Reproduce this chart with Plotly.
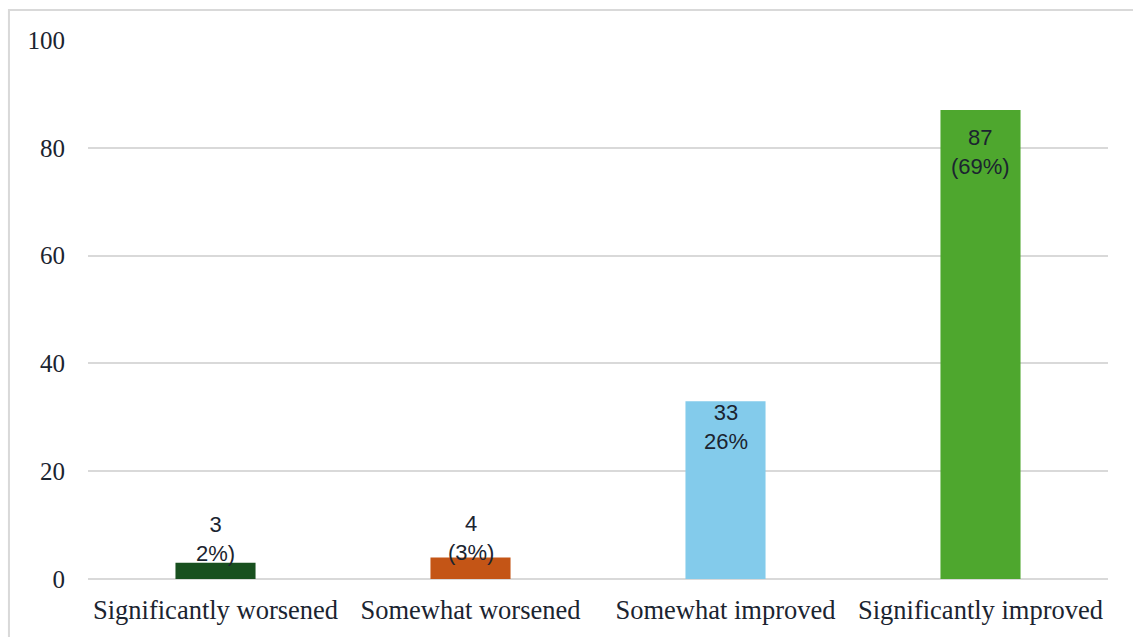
import plotly.graph_objects as go

categories = ["Significantly worsened", "Somewhat worsened", "Somewhat improved", "Significantly improved"]
counts = [3, 4, 33, 87]
pct_labels = ["2%)", "(3%)", "26%", "(69%)"]
bar_colors = ["#18501f", "#c45516", "#83cbeb", "#4ea72e"]
y_ticks = [0, 20, 40, 60, 80, 100]

# label placement per bar: (anchor, pixel shift from bar top)
label_anchor = ["bottom", "bottom", "top", "top"]
label_shift = [-5, -10, 3, -13]

fig = go.Figure(
    go.Bar(
        x=categories,
        y=counts,
        marker=dict(color=bar_colors, line=dict(width=0)),
        width=0.314,
        hoverinfo="skip",
    )
)

for cat, n, pct, anc, sh in zip(categories, counts, pct_labels, label_anchor, label_shift):
    fig.add_annotation(
        x=cat, y=n, text=f"{n}<br>{pct}", showarrow=False,
        yanchor=anc, yshift=sh, xanchor="center",
        font=dict(family="Liberation Sans, Arial, sans-serif", size=22, color="#1b2430"),
    )

# thin outer frame around the chart area
fig.add_shape(
    type="rect", xref="paper", yref="paper",
    x0=-0.0775, x1=1.06, y0=-0.3, y1=1.0555,
    line=dict(color="#d9d9d9", width=2), fillcolor="rgba(0,0,0,0)", layer="below",
)

fig.update_layout(
    width=1133, height=637,
    margin=dict(l=88, r=25, t=40, b=58),
    plot_bgcolor="white", paper_bgcolor="white",
    showlegend=False,
    font=dict(family="Liberation Serif, Times New Roman, serif", size=24, color="#1b2430"),
    xaxis=dict(
        showgrid=False, showline=False, ticks="", ticklabelstandoff=12,
        tickfont=dict(size=26.5),
    ),
    yaxis=dict(
        range=[0, 100], tickvals=y_ticks, showgrid=True, gridcolor="#d9d9d9",
        gridwidth=1.5, zeroline=True, zerolinecolor="#d9d9d9", zerolinewidth=1.5,
        showline=False, ticks="", ticklabelstandoff=22, tickfont=dict(size=25),
    ),
)

fig.write_html("out.html")
